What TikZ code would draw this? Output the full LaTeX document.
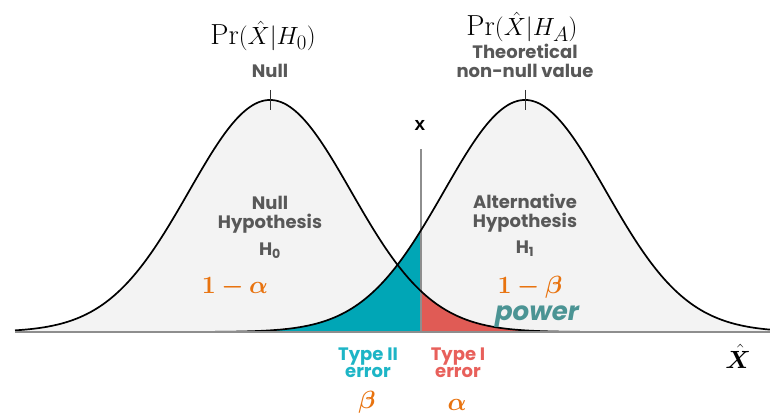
\documentclass[tikz,border=0pt]{standalone}
\usepackage{fontspec}
\setsansfont{Poppins}
\newfontfamily\arialfont{Liberation Sans}
\usepackage{bm}
\definecolor{txtgray}{HTML}{585858}
\definecolor{fillgray}{HTML}{F3F3F3}
\definecolor{tealfill}{HTML}{00A6B6}
\definecolor{redfill}{HTML}{E05B55}
\definecolor{typetwo}{HTML}{1DB5C6}
\definecolor{typeone}{HTML}{E8605B}
\definecolor{orangem}{HTML}{E8730F}
\definecolor{powercol}{HTML}{4B9494}
\definecolor{axisgray}{HTML}{8E8E8E}
\begin{document}
\begin{tikzpicture}[x=1pt,y=-1pt,
  declare function={nulc(\x)=332-232*exp(-0.5*((\x-270)/81)^2);
                    altc(\x)=332-232*exp(-0.5*((\x-525)/81)^2);},
  lbl/.style={font=\sffamily\bfseries\fontsize{18}{19}\selectfont, text=txtgray, align=center, inner sep=0pt, anchor=base},
  prlbl/.style={font=\fontsize{29}{32}\selectfont, inner sep=0pt, anchor=base},
  greek/.style={font=\fontsize{26}{30}\selectfont, text=orangem, inner sep=0pt, anchor=base},
  errlbl/.style={font=\sffamily\bfseries\fontsize{18}{17}\selectfont, align=center, inner sep=0pt, anchor=base},
  curve/.style={line width=1.7pt, black},
  tick/.style={line width=0.9pt, black!80}]
\useasboundingbox (0,0) rectangle (770,417);
% fills
\fill[fillgray] (15,332) -- plot[domain=15:770, samples=160, smooth] (\x,{nulc(\x)}) -- (770,332) -- cycle;
\fill[fillgray] (15,332) -- plot[domain=15:770, samples=160, smooth] (\x,{altc(\x)}) -- (770,332) -- cycle;
\fill[tealfill] (250,332) -- plot[domain=250:421, samples=80, smooth] (\x,{altc(\x)}) -- (421,332) -- cycle;
\fill[redfill] (421,332) -- plot[domain=421:770, samples=100, smooth] (\x,{nulc(\x)}) -- (770,332) -- cycle;
% baseline and threshold
\coordinate (b0) at (15,332);
\coordinate (b1) at (770,332);
\coordinate (vt) at (421,149);
\coordinate (vb) at (421,332);
\draw[axisgray, line width=1.4pt] (vt) -- (vb);
% curves
\draw[curve] plot[domain=15:770, samples=160, smooth] (\x,{nulc(\x)});
\draw[curve] plot[domain=15:770, samples=160, smooth] (\x,{altc(\x)});
\draw[axisgray, line width=2pt] (b0) -- (b1);
% peak ticks
\coordinate (t0a) at (270,90); \coordinate (t0b) at (270,110);
\coordinate (t1a) at (525,90); \coordinate (t1b) at (525,110);
\draw[tick] (t0a) -- (t0b);
\draw[tick] (t1a) -- (t1b);
% top labels
\node[prlbl] (pr0) at (263,45) {$\mathrm{Pr}(\hat{X}|H_0)$};
\node[prlbl] (pra) at (522,36) {$\mathrm{Pr}(\hat{X}|H_A)$};
\node[lbl] (null) at (270,78) {Null};
\node[lbl] (theo) at (525,78) {Theoretical\\non-null value};
\node[font=\arialfont\bfseries\fontsize{19}{22}\selectfont, inner sep=0pt, anchor=base] (xl) at (420,130) {x};
% curve labels
\node[lbl] (nh) at (270,228) {Null\\Hypothesis};
\node[lbl] (h0) at (270,255) {H\textsubscript{0}};
\node[lbl] (ah) at (525,227) {Alternative\\Hypothesis};
\node[lbl] (h1) at (525,253) {H\textsubscript{1}};
\node[greek] (oma) at (235,293) {$\bm{1-\alpha}$};
\node[greek] (omb) at (530,293) {$\bm{1-\beta}$};
\node[font=\sffamily\bfseries\itshape\fontsize{26}{30}\selectfont, text=powercol, inner sep=0pt, anchor=base] (pow) at (537,320) {power};
% error labels
\node[errlbl, text=typetwo] (t2) at (368,377) {Type II\\error};
\node[errlbl, text=typeone] (t1) at (458,377) {Type I\\error};
\node[greek] (beta) at (367,408) {$\bm{\beta}$};
\node[greek] (alpha) at (457,410) {$\bm{\alpha}$};
\node[font=\fontsize{29}{32}\selectfont, inner sep=0pt, anchor=base] (xhat) at (738,368) {$\bm{\hat{X}}$};
\end{tikzpicture}
\end{document}
